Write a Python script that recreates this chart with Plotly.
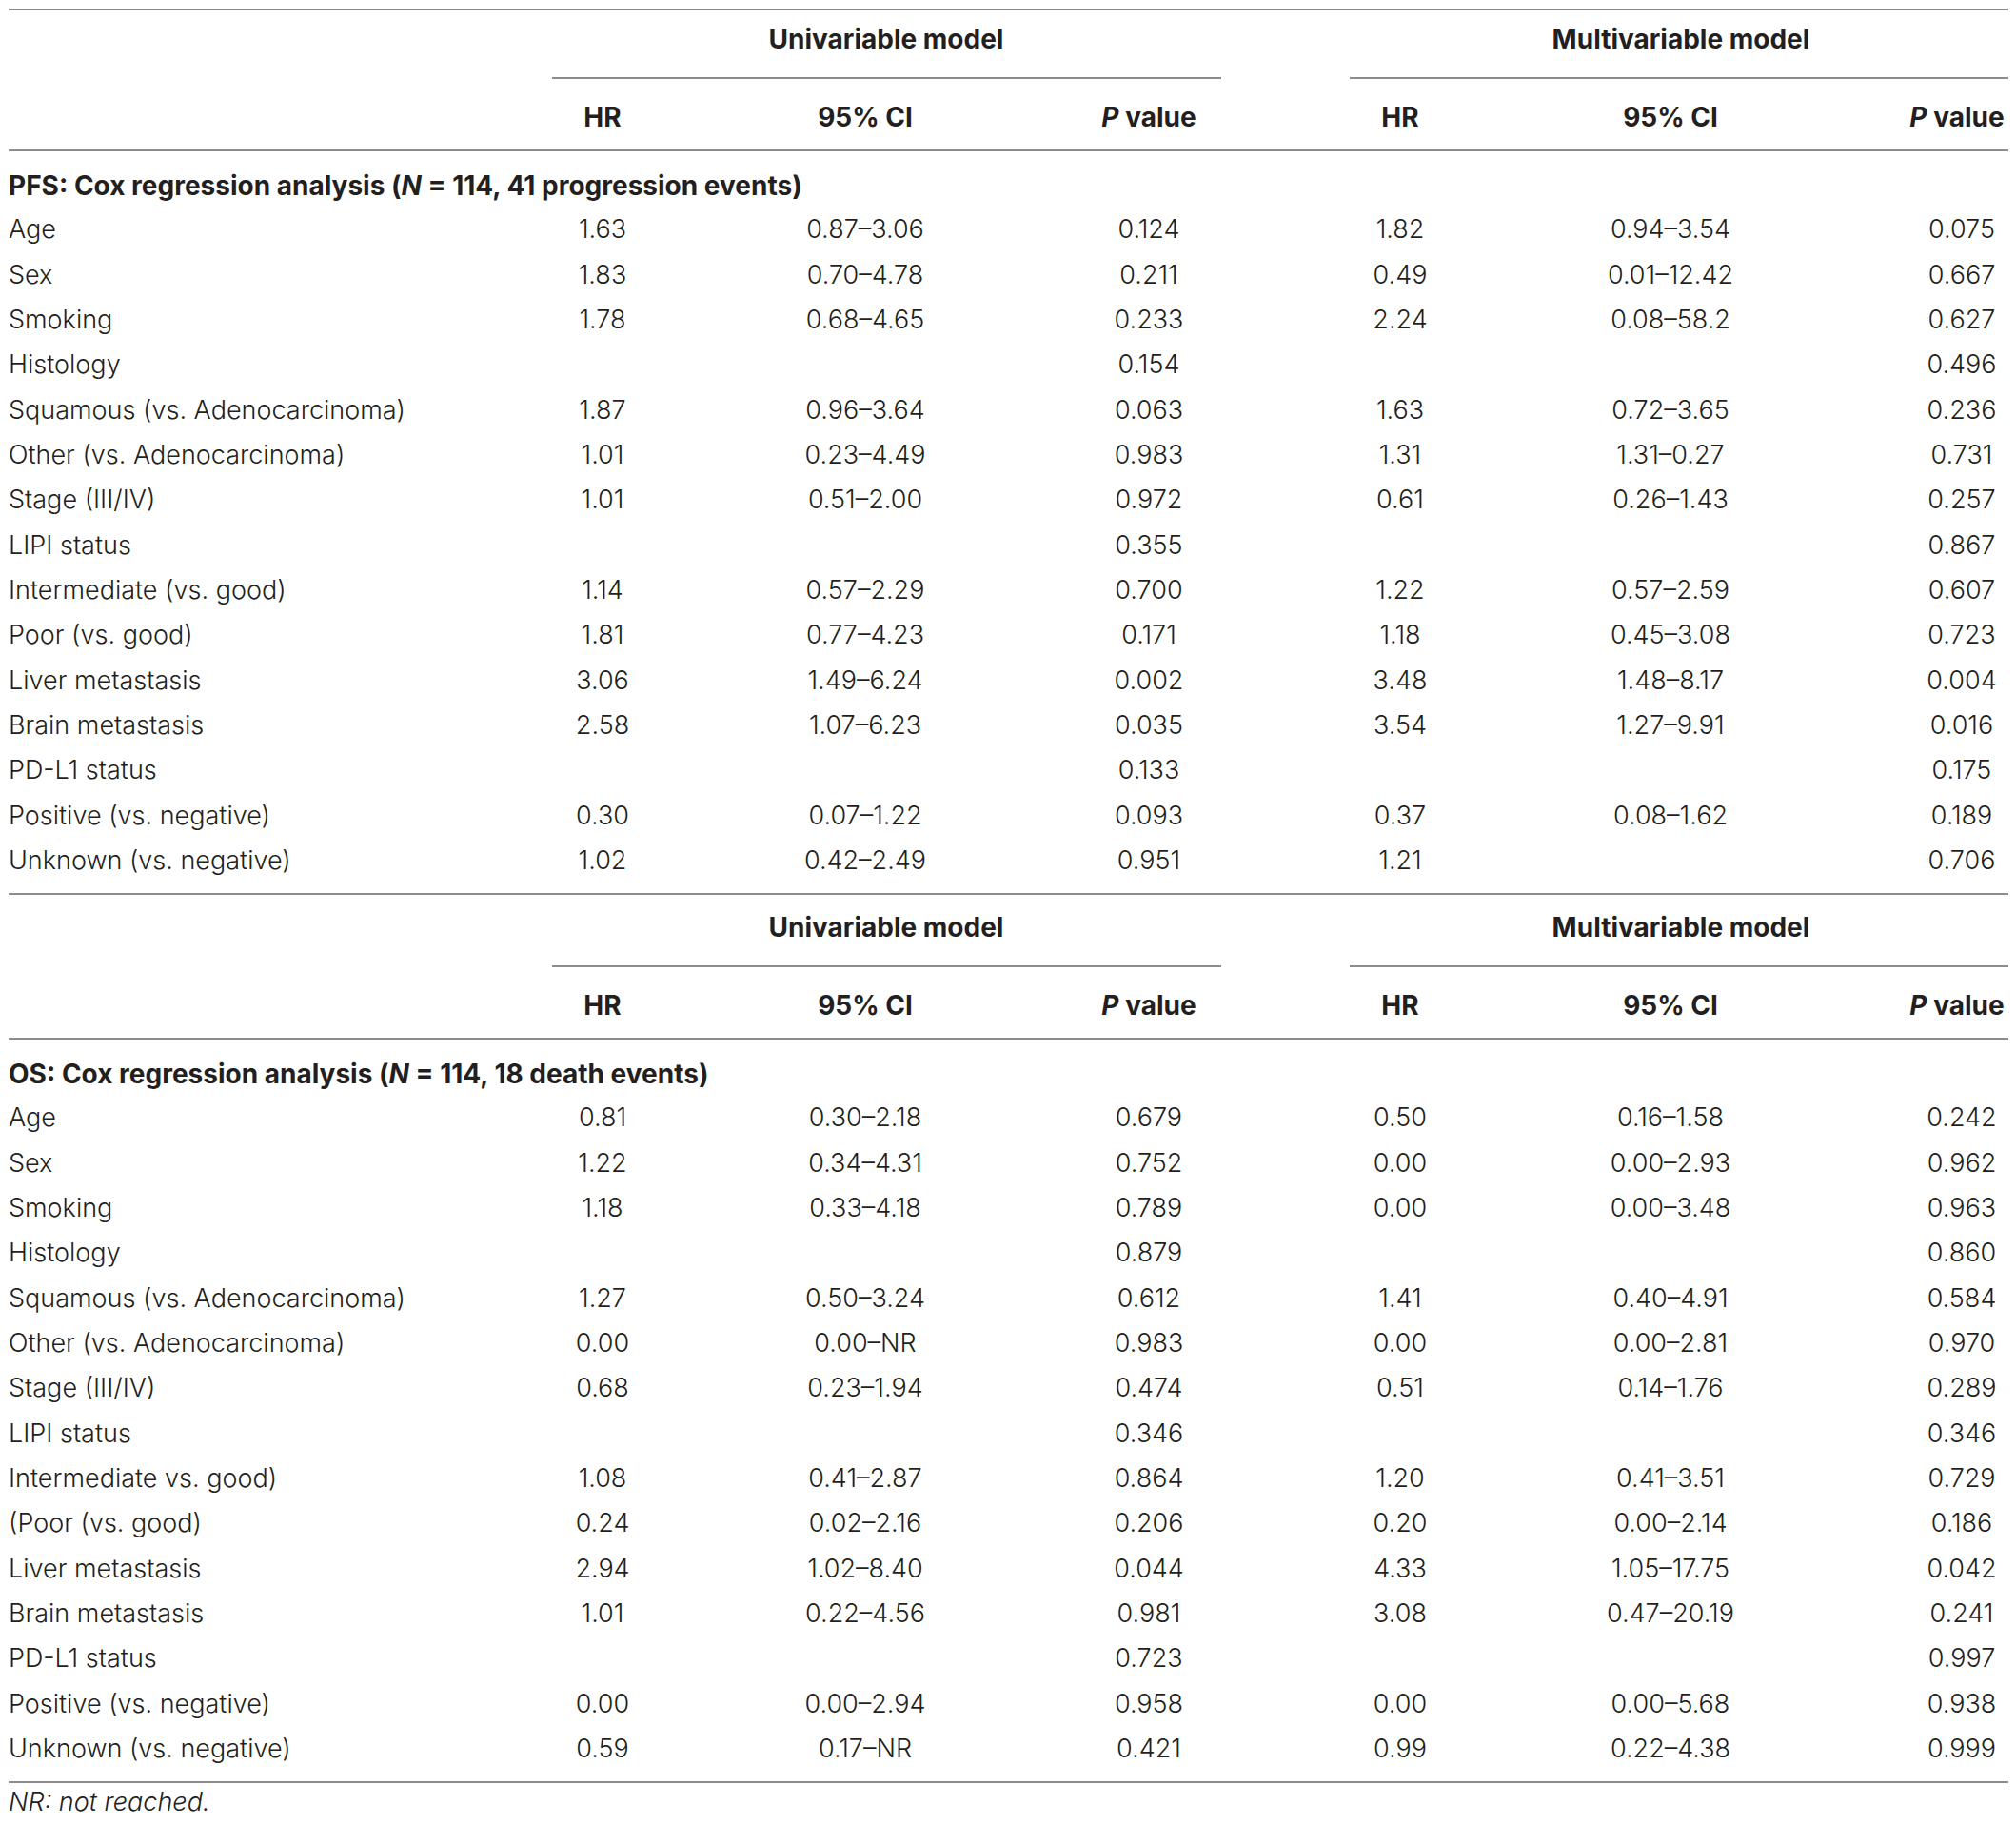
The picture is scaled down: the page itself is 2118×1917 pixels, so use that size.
import plotly.graph_objects as go

# ---- data ----
pfs_labels = ["Age", "Sex", "Smoking", "Histology", "Squamous (vs. Adenocarcinoma)",
              "Other (vs. Adenocarcinoma)", "Stage (III/IV)", "LIPI status",
              "Intermediate (vs. good)", "Poor (vs. good)", "Liver metastasis",
              "Brain metastasis", "PD-L1 status", "Positive (vs. negative)",
              "Unknown (vs. negative)"]
pfs_uni_hr = ["1.63", "1.83", "1.78", "", "1.87", "1.01", "1.01", "", "1.14", "1.81",
              "3.06", "2.58", "", "0.30", "1.02"]
pfs_uni_ci = ["0.87–3.06", "0.70–4.78", "0.68–4.65", "", "0.96–3.64", "0.23–4.49",
              "0.51–2.00", "", "0.57–2.29", "0.77–4.23", "1.49–6.24", "1.07–6.23", "",
              "0.07–1.22", "0.42–2.49"]
pfs_uni_p = ["0.124", "0.211", "0.233", "0.154", "0.063", "0.983", "0.972", "0.355",
             "0.700", "0.171", "0.002", "0.035", "0.133", "0.093", "0.951"]
pfs_multi_hr = ["1.82", "0.49", "2.24", "", "1.63", "1.31", "0.61", "", "1.22", "1.18",
                "3.48", "3.54", "", "0.37", "1.21"]
pfs_multi_ci = ["0.94–3.54", "0.01–12.42", "0.08–58.2", "", "0.72–3.65", "1.31–0.27",
                "0.26–1.43", "", "0.57–2.59", "0.45–3.08", "1.48–8.17", "1.27–9.91", "",
                "0.08–1.62", ""]
pfs_multi_p = ["0.075", "0.667", "0.627", "0.496", "0.236", "0.731", "0.257", "0.867",
               "0.607", "0.723", "0.004", "0.016", "0.175", "0.189", "0.706"]

os_labels = ["Age", "Sex", "Smoking", "Histology", "Squamous (vs. Adenocarcinoma)",
             "Other (vs. Adenocarcinoma)", "Stage (III/IV)", "LIPI status",
             "Intermediate vs. good)", "(Poor (vs. good)", "Liver metastasis",
             "Brain metastasis", "PD-L1 status", "Positive (vs. negative)",
             "Unknown (vs. negative)"]
os_uni_hr = ["0.81", "1.22", "1.18", "", "1.27", "0.00", "0.68", "", "1.08", "0.24",
             "2.94", "1.01", "", "0.00", "0.59"]
os_uni_ci = ["0.30–2.18", "0.34–4.31", "0.33–4.18", "", "0.50–3.24", "0.00–NR",
             "0.23–1.94", "", "0.41–2.87", "0.02–2.16", "1.02–8.40", "0.22–4.56", "",
             "0.00–2.94", "0.17–NR"]
os_uni_p = ["0.679", "0.752", "0.789", "0.879", "0.612", "0.983", "0.474", "0.346",
            "0.864", "0.206", "0.044", "0.981", "0.723", "0.958", "0.421"]
os_multi_hr = ["0.50", "0.00", "0.00", "", "1.41", "0.00", "0.51", "", "1.20", "0.20",
               "4.33", "3.08", "", "0.00", "0.99"]
os_multi_ci = ["0.16–1.58", "0.00–2.93", "0.00–3.48", "", "0.40–4.91", "0.00–2.81",
               "0.14–1.76", "", "0.41–3.51", "0.00–2.14", "1.05–17.75", "0.47–20.19", "",
               "0.00–5.68", "0.22–4.38"]
os_multi_p = ["0.242", "0.962", "0.963", "0.860", "0.584", "0.970", "0.289", "0.346",
              "0.729", "0.186", "0.042", "0.241", "0.997", "0.938", "0.999"]

model_names = ["Univariable model", "Multivariable model"]
col_names = ["HR", "95% CI", "<i>P</i> value"]
pfs_title = "PFS: Cox regression analysis (<i>N</i> = 114, 41 progression events)"
os_title = "OS: Cox regression analysis (<i>N</i> = 114, 18 death events)"
note = "NR: not reached."

# ---- layout constants ----
W, H = 2118, 1917
PAD = 8  # default body margin of the html page
FONT = "Inter"
TXT = "#231f20"
RULE = "#8c8c8c"
FS = 27
FS_BOLD = 28
DY = 2.5  # nudge text down so glyphs sit like the reference
left_x = 9
col_x = [633, 909, 1207, 1471, 1755, 2061]
head_x = [633, 909, 1207, 1471, 1755, 2056]  # last header kept inside the page
model_x = [931, 1766]
span = [(580, 1283), (1418, 2110)]
pitch = 47.33

fig = go.Figure()
shapes = []


def add_text(x, y, text, pos, bold=False, italic=False):
    fig.add_trace(go.Scatter(
        x=x, y=[v + DY for v in y], text=text, mode="text", textposition=pos,
        hoverinfo="skip", cliponaxis=False,
        textfont=dict(family=FONT, size=FS_BOLD if bold else FS, color=TXT,
                      weight=700 if bold else 300,
                      style="italic" if italic else "normal"),
        showlegend=False))


def hline(y, x0=left_x, x1=2110):
    shapes.append(dict(type="line", xref="x", yref="y", x0=x0, x1=x1, y0=y, y1=y,
                       line=dict(color=RULE, width=2)))


def block(top, title, labels, cols):
    hline(max(top, PAD + 2))
    add_text(model_x, [top + 35.5] * 2, [f"<b>{m}</b>" for m in model_names],
             "middle center", bold=True)
    for x0, x1 in span:
        hline(top + 76, x0, x1)
    add_text(head_x, [top + 117] * 6, [f"<b>{c}</b>" for c in col_names * 2],
             "middle center", bold=True)
    hline(top + 152)
    add_text([left_x], [top + 189], [f"<b>{title}</b>"], "middle right", bold=True)
    ys = [top + 235 + i * pitch for i in range(len(labels))]
    add_text([left_x] * len(labels), ys, labels, "middle right")
    for cx, vals in zip(col_x, cols):
        add_text([cx] * len(vals), ys, vals, "middle center")
    return ys[-1]


last1 = block(6, pfs_title, pfs_labels,
              [pfs_uni_hr, pfs_uni_ci, pfs_uni_p, pfs_multi_hr, pfs_multi_ci, pfs_multi_p])
last2 = block(939, os_title, os_labels,
              [os_uni_hr, os_uni_ci, os_uni_p, os_multi_hr, os_multi_ci, os_multi_p])
hline(last2 + 35.5)
add_text([left_x], [last2 + 56], [note], "middle right", italic=True)

fig.update_layout(
    width=W - 2 * PAD, height=H - 2 * PAD, margin=dict(l=0, r=0, t=0, b=0),
    paper_bgcolor="white", plot_bgcolor="white", shapes=shapes,
    xaxis=dict(range=[PAD, W - PAD], visible=False, fixedrange=True),
    yaxis=dict(range=[H - PAD, PAD], visible=False, fixedrange=True),
)
fig.write_html("out.html")
